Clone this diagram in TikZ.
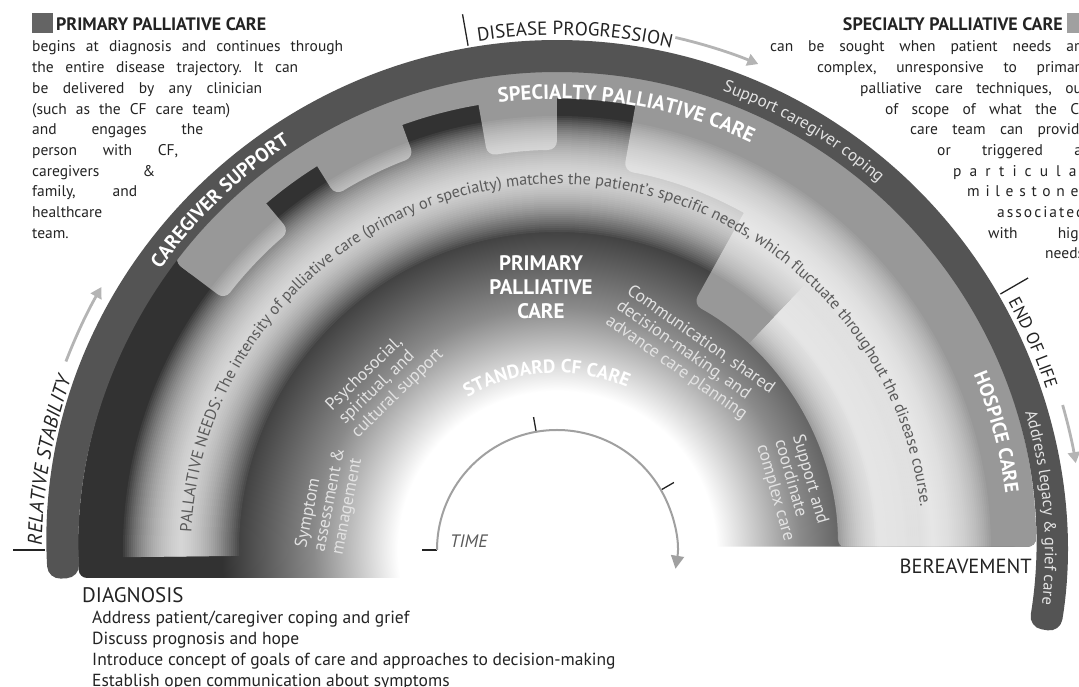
\documentclass[tikz,border=0pt]{standalone}
\usepackage{fontspec}
\setmainfont{PT Sans}
\usetikzlibrary{decorations.text, arrows.meta}

\definecolor{bandgray}{RGB}{84,84,84}
\definecolor{coregray}{RGB}{50,50,50}
\definecolor{midcore}{RGB}{138,138,138}
\definecolor{spgray}{RGB}{152,152,152}
\definecolor{inkgray}{RGB}{35,35,35}
\definecolor{needgray}{RGB}{90,90,90}
\definecolor{arrowgray}{RGB}{180,180,180}
\definecolor{timegray}{RGB}{160,160,160}
\definecolor{softwhite}{RGB}{226,226,226}
\definecolor{primarysq}{RGB}{100,100,100}
\definecolor{specialsq}{RGB}{160,160,160}

\pgfdeclareradialshading{cfcore}{\pgfpoint{0bp}{0bp}}{color(0bp)=(white); color(8.3bp)=(white); color(12.7bp)=(midcore); color(17.5bp)=(coregray); color(50bp)=(coregray)}

\newcommand{\spsector}[4]{\fill[spgray, rounded corners=9] (#1:#4) arc[start angle=#1, end angle=#2, radius=#4] -- (#2:#3) arc[start angle=#2, end angle=#1, radius=#3] -- cycle;}

\frenchspacing
\begin{document}
\begin{tikzpicture}[x=1pt, y=1pt,
    arc text/.style={decorate, decoration={text along path, text align=center, text={#1}}},
    tick line/.style={inkgray, line width=1.3pt},
    flow arrow/.style={arrowgray, line width=2.8pt, -{Triangle[length=11pt, width=12pt]}},
    care text/.style={text=softwhite, font=\fontsize{17.5}{18.5}\selectfont, align=left, inner sep=0pt},
    side text/.style={text=inkgray, font=\fontsize{15.5}{17}\selectfont, inner sep=0pt, anchor=base west},
    head text/.style={text=inkgray, font=\fontsize{18}{18}\selectfont\bfseries, inner sep=0pt},
  ]
\useasboundingbox (-557,-137) rectangle (522,550);

\begin{scope}
  \clip[rounded corners=8] (-478,-28) -- (-479,0) arc[start angle=180, end angle=0.4, radius=479] -- (150,3.3) -- (150,-28) -- cycle;
  \shade[shading=cfcore] (0,0) circle (479);
  \spsector{0.4}{143}{451}{480}
  \spsector{130}{143}{416}{480}
  \spsector{110}{122}{418}{480}
  \spsector{90}{100}{400}{480}
  \spsector{55}{80}{385}{480}
  \spsector{0.4}{61}{281}{480}
  \foreach \w in {4,8,...,116}
    \draw[white, line width=\w, opacity=0.06] (181:376) arc[start angle=181, end angle=-4, radius=376];
  \foreach \w in {4,8,...,80}
    \draw[white, line width=\w, opacity=0.07] (47:322) arc[start angle=47, end angle=-2, radius=322];
\end{scope}

\fill[bandgray, rounded corners=13] (183.3:510) arc[start angle=183.3, end angle=-9.3, radius=510] -- (-9.3:478) arc[start angle=-9.3, end angle=183.3, radius=478] -- cycle;

\path[arc text={|\fontsize{19.5}{19.5}\selectfont\bfseries\color{white}|CAREGIVER SUPPORT}] (164:486) arc[start angle=164, end angle=104, radius=486];
\path[arc text={|\fontsize{17}{17}\selectfont\color{softwhite}|Support caregiver coping}] (89.5:488) arc[start angle=89.5, end angle=29.5, radius=488];
\path[arc text={|\fontsize{16.5}{16.5}\selectfont\color{softwhite}|Address legacy {\&} grief care}] (35:488) arc[start angle=35, end angle=-25, radius=488];
\path[arc text={|\fontsize{20.5}{20.5}\selectfont\bfseries\color{white}|SPECIALTY PALLIATIVE CARE}] (121:451) arc[start angle=121, end angle=41, radius=451];
\path[arc text={|\fontsize{19.5}{19.5}\selectfont\bfseries\color{white}|HOSPICE CARE}] (45:452) arc[start angle=45, end angle=-15, radius=452];
\path[arc text={|\fontsize{19}{19}\selectfont\bfseries\color{white}|STANDARD CF CARE}] (153.5:177) arc[start angle=153.5, end angle=33.5, radius=177];
\path[arc text={|\fontsize{16.2}{16.2}\selectfont\color{needgray}|PALLAITIVE NEEDS: The intensity of palliative care (primary or specialty) matches the patient's specific needs, which fluctuate throughout the disease course.}] (184:366) arc[start angle=184, end angle=0, radius=366];

\path[arc text={|\fontsize{20}{20}\selectfont\itshape\color{inkgray}|RELATIVE STABILITY}] (200:515) arc[start angle=200, end angle=140, radius=515];
\path[arc text={|\fontsize{19}{19}\selectfont\color{inkgray}|DISEASE PROGRESSION}] (118:515) arc[start angle=118, end angle=58, radius=515];
\path[arc text={|\fontsize{17.5}{17.5}\selectfont\color{inkgray}|END OF LIFE}] (53.5:515) arc[start angle=53.5, end angle=-6.5, radius=515];

\foreach \a in {180,100,30} {
  \draw[tick line] (\a:512) -- (\a:544);
  \draw[tick line] (\a:120) -- (\a:135);
}
\draw[flow arrow] (159:526) arc[start angle=159, end angle=150, radius=526];
\draw[flow arrow] (77:526) arc[start angle=77, end angle=67.5, radius=526];
\draw[flow arrow] (16:526) arc[start angle=16, end angle=9.5, radius=526];

\draw[timegray, line width=2pt, -{Triangle[length=13pt, width=13pt]}] (180:120) arc[start angle=180, end angle=-9, radius=120];
\node[font=\fontsize{18}{18}\selectfont\itshape, text=needgray, anchor=base west, inner sep=0pt] (time) at (-107,2) {TIME};

\node[care text, rotate=79] (symptom) at (-227,50) {Symptom\\assessment \&\\management};
\node[care text, rotate=44] (psycho) at (-172,170) {Psychosocial,\\spiritual, and\\cultural support};
\node[care text, rotate=-35] (comm) at (133,195) {Communication, shared\\decision-making, and\\advance care planning};
\node[care text, rotate=-74] (coord) at (236,62) {Support and\\coordinate\\complex care};
\node[font=\fontsize{21}{24}\selectfont\bfseries, text=white, align=center] (ppc) at (-16,263) {PRIMARY\\PALLIATIVE\\CARE};

\fill[primarysq] (-525,537) rectangle (-504,517);
\node[head text, anchor=base west] (pphead) at (-501,519) {PRIMARY PALLIATIVE CARE};
\foreach \w/\t [count=\i from 0] in {311/{begins at diagnosis and continues through}, 266/{the entire disease trajectory. It can}, 230/{be delivered by any clinician}, 198/{(such as the CF care team)}, 171/{and engages the}, 146/{person with CF,}, 123/{caregivers \&}, 105/{family, and}, 0/{healthcare}, 0/{team.}}
  \node[side text] (pp\i) at (-525, {498-20.7*\i}) {\ifnum\w>0 \makebox[\w pt][s]{\t}\else\t\fi};

\fill[specialsq] (510,537) rectangle (532,517);
\node[head text, anchor=base east] (sphead) at (506,519) {SPECIALTY PALLIATIVE CARE};
\foreach \x/\t [count=\i from 0] in {770/{\makebox[317pt][s]{can be sought when patient needs are}}, 817/{\makebox[270pt][s]{complex, unresponsive to primary}}, 860/{\makebox[227pt][s]{palliative care techniques, out}}, 885/{\makebox[202pt][s]{of scope of what the CF}}, 910/{\makebox[177pt][s]{care team can provide}}, 937/{\makebox[150pt][s]{or triggered at}}, 953/{\addfontfeature{LetterSpace=52}particular}, 967/{\addfontfeature{LetterSpace=37}milestones}, 997/{\addfontfeature{LetterSpace=13}associated}, 988/{\makebox[99pt][s]{with high}}, 1045/{needs}}
  \node[side text] (sp\i) at ({\x-557}, {498-20.7*\i}) {\t};

\node[side text, font=\fontsize{21}{21}\selectfont] (diag) at (-475,-53) {DIAGNOSIS};
\foreach \t [count=\i from 0] in {{Address patient/caregiver coping and grief}, {Discuss prognosis and hope}, {Introduce concept of goals of care and approaches to decision-making}, {Establish open communication about symptoms}}
  \node[side text, font=\fontsize{17.5}{17.5}\selectfont] (dg\i) at (-465, {-74-20.7*\i}) {\t};
\node[side text, anchor=base east, font=\fontsize{20.5}{20.5}\selectfont] (bereave) at (475,-24) {BEREAVEMENT};
\end{tikzpicture}
\end{document}
